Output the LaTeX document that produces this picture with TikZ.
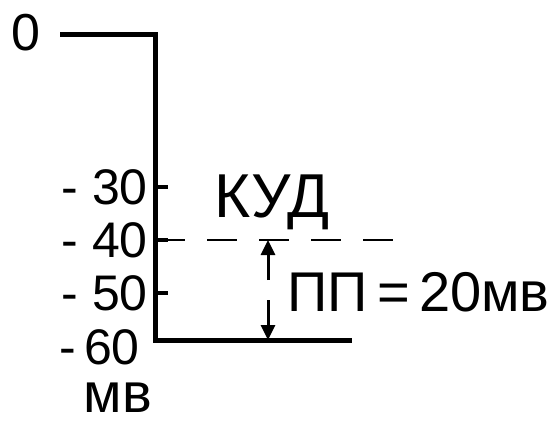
\documentclass[tikz,border=0pt]{standalone}
\usepackage{fontspec}
\setmainfont{Liberation Sans}
\usetikzlibrary{arrows.meta,positioning}
\tikzset{
  axisline/.style={line width=5pt, line join=miter},
  tickline/.style={line width=4pt},
  levelline/.style={line width=2.5pt, dash pattern=on 30pt off 22pt},
  ticklbl/.style={font=\fontsize{50}{50}\selectfont, anchor=east, inner sep=0pt},
  biglbl/.style={font=\fontsize{56}{56}\selectfont, inner sep=0pt},
  halfarrow/.style={-{Triangle[length=15pt,width=14pt]}, line width=3pt}
}
\begin{document}
\begin{tikzpicture}[x=1pt,y=-1pt]
  \useasboundingbox (0,0) rectangle (556,432);
  \coordinate (zero) at (60,34);
  \coordinate (top) at (155,34);
  \coordinate (corner) at (155,340);
  \coordinate (end) at (352,340);
  \draw[axisline] (zero) -- (top) -- (corner) -- (end);
  % scale marks
  \foreach \v/\y in {30/187,40/240,50/293}{
    \coordinate (t\v) at (155,\y);
    \draw[tickline] (t\v) -- ++(13,0);
    \node[ticklbl] (l\v) at (148,\y) {- \v};
  }
  \node[ticklbl] (l60) at (140,347) {-\,60};
  \node[ticklbl, anchor=center, font=\fontsize{52}{52}\selectfont] (l0) at (26,33) {0};
  \node[biglbl] (unit) at (118,398) {мв};
  % threshold
  \coordinate (kudend) at (400,240);
  \draw[levelline] (t40) -- (kudend);
  \node[biglbl, font=\fontsize{62}{62}\selectfont] (kud) at (272,202) {КУД};
  \coordinate (arrtop) at (268,240);
  \coordinate (arrbot) at (268,340);
  \coordinate (upfrom) at (268,280);
  \coordinate (downfrom) at (268,300);
  \draw[halfarrow] (upfrom) -- (arrtop);
  \draw[halfarrow] (downfrom) -- (arrbot);
  \node[biglbl, anchor=west] (pp) at (287,292) {ПП\,=\,20мв};
\end{tikzpicture}
\end{document}
